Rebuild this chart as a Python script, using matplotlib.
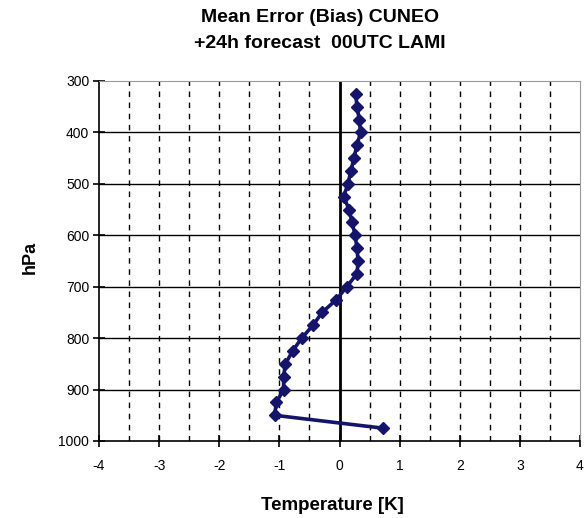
import matplotlib.pyplot as plt
import numpy as np

# mean temperature error profile, +24h forecast
pressure = [325, 350, 375, 400, 425, 450, 475, 500, 525, 550, 575, 600, 625,
            650, 675, 700, 725, 750, 775, 800, 825, 850, 875, 900, 925, 950, 975]
bias = [0.27, 0.29, 0.33, 0.35, 0.29, 0.24, 0.19, 0.14, 0.07, 0.16, 0.21, 0.26,
        0.29, 0.31, 0.29, 0.12, -0.05, -0.29, -0.44, -0.63, -0.78, -0.90, -0.93,
        -0.93, -1.05, -1.08, 0.72]
y_ticks = [300, 400, 500, 600, 700, 800, 900, 1000]
x_ticks = [-4, -3, -2, -1, 0, 1, 2, 3, 4]

plt.rcParams['font.family'] = ['Liberation Sans', 'DejaVu Sans']
plt.rcParams['axes.unicode_minus'] = False

fig = plt.figure(figsize=(5.85, 5.18), dpi=100)
ax = fig.add_axes([99 / 585, 1 - 441 / 518, 481 / 585, 360 / 518])

ax.set_xlim(-4, 4)
ax.set_ylim(1000, 300)
ax.set_xticks(x_ticks)
ax.set_yticks(y_ticks)

# grid: dashed verticals every 0.5, solid horizontals every 100 hPa
for xv in np.arange(-3.5, 4, 0.5):
    if xv != 0:
        ax.axvline(xv, color='black', lw=1, ls=(0, (4, 4)), zorder=1)
for yv in y_ticks[1:-1]:
    ax.axhline(yv, color='black', lw=1, zorder=1)
ax.axvline(0, color='black', lw=2, zorder=2)

ax.plot(bias, pressure, color='#14146b', lw=2.6, marker='D', ms=6, zorder=3)

for side in ['top', 'right']:
    ax.spines[side].set_color('#999999')
    ax.spines[side].set_linewidth(0.8)
ax.spines['left'].set_linewidth(1.2)
ax.spines['bottom'].set_linewidth(1.2)

ax.tick_params(axis='both', which='major', direction='inout', length=8,
               width=1.2, labelsize=10)
ax.tick_params(axis='x', pad=9)
ax.tick_params(axis='y', pad=3)

fig.text(30 / 585, 1 - 257 / 518, 'hPa', rotation=90, ha='center', va='center',
         fontsize=13, fontweight='bold')
fig.text(332 / 585, 1 - 506 / 518, 'Temperature [K]', ha='center', va='center',
         fontsize=13.5, fontweight='bold')
fig.text(320 / 585, 1 - 18 / 518, 'Mean Error (Bias) CUNEO', ha='center',
         va='center', fontsize=14, fontweight='bold')
fig.text(320 / 585, 1 - 43 / 518, '+24h forecast  00UTC LAMI', ha='center',
         va='center', fontsize=14, fontweight='bold')

fig.savefig('out.png', dpi=100)
